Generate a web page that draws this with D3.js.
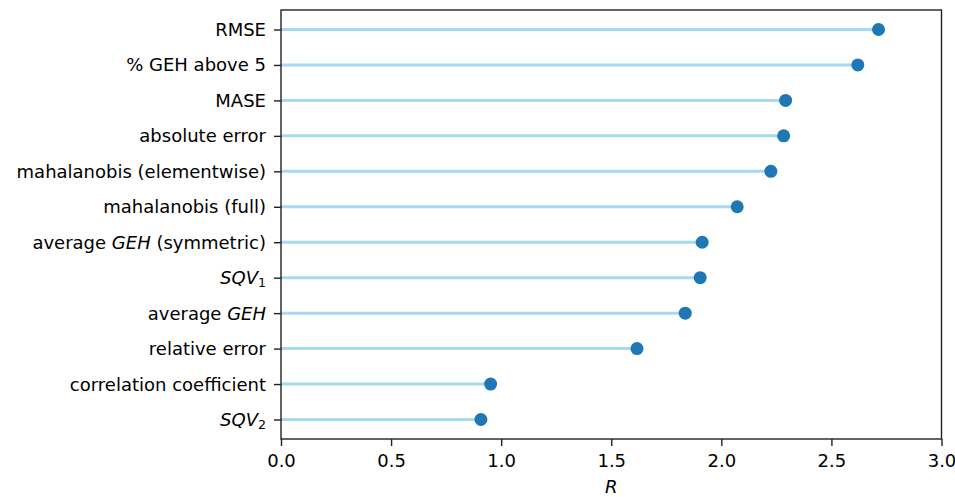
<!DOCTYPE html>
<html>
<head>
<meta charset="utf-8">
<script src="https://cdn.jsdelivr.net/npm/d3@7"></script>
<style>
  html, body { margin: 0; padding: 0; background: #fff; }
  svg { display: block; }
  text { font-family: "DejaVu Sans", sans-serif; fill: #000; }
</style>
</head>
<body>
<svg id="chart" width="955" height="497"></svg>
<script>
// Metric names (top to bottom); $...$ marks italic math, _x a subscript
const categories = [
  "RMSE",
  "% GEH above 5",
  "MASE",
  "absolute error",
  "mahalanobis (elementwise)",
  "mahalanobis (full)",
  "average $GEH$ (symmetric)",
  "$SQV_1$",
  "average $GEH$",
  "relative error",
  "correlation coefficient",
  "$SQV_2$"
];

// R value of each metric
const values = [2.714, 2.620, 2.292, 2.283, 2.225, 2.072, 1.913, 1.904, 1.836, 1.617, 0.952, 0.908];

const xTicks = [0.0, 0.5, 1.0, 1.5, 2.0, 2.5, 3.0];
const xLabel = "R";

const margin = { left: 281, right: 955 - 941.5, top: 10, bottom: 497 - 439 };
const width = 955, height = 497;
const fontSize = 18;

const svg = d3.select("#chart");

const x = d3.scaleLinear()
  .domain([0, 3])
  .range([margin.left, width - margin.right]);

const y = d3.scalePoint()
  .domain(categories)
  .range([margin.top, height - margin.bottom])
  .padding(0.55);

// Stems
svg.append("g")
  .selectAll("line")
  .data(categories)
  .join("line")
  .attr("x1", x(0))
  .attr("x2", (d, i) => x(values[i]))
  .attr("y1", d => y(d))
  .attr("y2", d => y(d))
  .attr("stroke", "#87ceeb")
  .attr("stroke-opacity", 0.75)
  .attr("stroke-width", 3);

// Dots
svg.append("g")
  .selectAll("circle")
  .data(categories)
  .join("circle")
  .attr("cx", (d, i) => x(values[i]))
  .attr("cy", d => y(d))
  .attr("r", 6.5)
  .attr("fill", "#1f77b4");

// Frame
svg.append("rect")
  .attr("x", margin.left)
  .attr("y", margin.top)
  .attr("width", width - margin.right - margin.left)
  .attr("height", height - margin.bottom - margin.top)
  .attr("fill", "none")
  .attr("stroke", "#222")
  .attr("stroke-width", 1.4);

// X axis
const xAxis = d3.axisBottom(x)
  .tickValues(xTicks)
  .tickFormat(d3.format(".1f"))
  .tickSize(7)
  .tickSizeOuter(0)
  .tickPadding(8);

const gx = svg.append("g")
  .attr("transform", `translate(0,${height - margin.bottom})`)
  .call(xAxis);
gx.select(".domain").remove();
gx.selectAll(".tick line").attr("stroke", "#222").attr("stroke-width", 1.4);
gx.selectAll(".tick text")
  .attr("font-family", "DejaVu Sans")
  .attr("font-size", fontSize)
  .attr("fill", "#000");

// Y axis (ticks only; labels are rich text)
const yAxis = d3.axisLeft(y)
  .tickSize(7)
  .tickSizeOuter(0)
  .tickFormat("");

const gy = svg.append("g")
  .attr("transform", `translate(${margin.left},0)`)
  .call(yAxis);
gy.select(".domain").remove();
gy.selectAll(".tick line").attr("stroke", "#222").attr("stroke-width", 1.4);

// Render a label with $...$ math (italic) and _x subscripts
function richLabel(textSel, s) {
  const parts = s.split("$");
  parts.forEach((part, idx) => {
    if (!part) return;
    const isMath = idx % 2 === 1;
    if (!isMath) {
      textSel.append("tspan").text(part);
      return;
    }
    const m = part.split("_");
    textSel.append("tspan").attr("font-style", "italic").text(m[0]);
    if (m.length > 1) {
      textSel.append("tspan")
        .attr("font-size", fontSize * 0.7)
        .attr("dy", fontSize * 0.18)
        .text(m[1]);
    }
  });
}

const labelX = margin.left - 7 - 8;
svg.append("g")
  .selectAll("text")
  .data(categories)
  .join("text")
  .attr("x", labelX)
  .attr("y", d => y(d))
  .attr("dy", "0.36em")
  .attr("text-anchor", "end")
  .attr("font-size", fontSize)
  .each(function(d) { richLabel(d3.select(this), d); });

// X axis title
svg.append("text")
  .attr("x", (x(0) + x(3)) / 2)
  .attr("y", 493)
  .attr("text-anchor", "middle")
  .attr("font-size", fontSize)
  .attr("font-style", "italic")
  .text(xLabel);
</script>
</body>
</html>
